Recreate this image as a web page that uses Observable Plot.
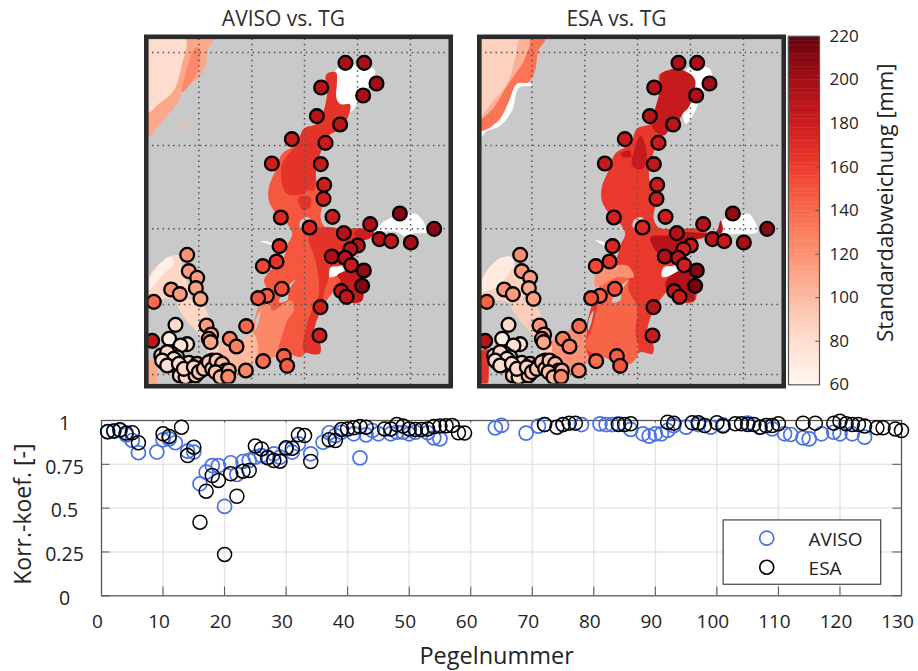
<!DOCTYPE html>
<html><head><meta charset="utf-8">
<script src="https://cdn.jsdelivr.net/npm/d3@7"></script>
<script src="https://cdn.jsdelivr.net/npm/@observablehq/plot@0.6"></script>
<style>
html,body{margin:0;padding:0;background:#fff}
#page{position:relative;width:918px;height:671px;overflow:hidden}
#page>div{position:absolute}
svg{display:block;overflow:visible}
</style></head><body><div id="page">
<div id="a" style="left:130px;top:0"></div>
<div id="b" style="left:463px;top:0"></div>
<div id="c" style="left:785px;top:0"></div>
<div id="d" style="left:0;top:400px"></div>
</div>
<script>
const FONT = "'Open Sans', sans-serif";
const INK = "#2e2e2e";

// ---------- map panels: positions in map-plane units ----------
const stationE = [615,671,708,668,542,529,599,454,555,394,541,551,549,421,576,507,689,778,881,717,752,811,610,652,630,574,614,632,670,665,602,618,417,408,367,424,379,353,540,537,317,268,288,430,440,368,316,140,145,170,166,180,92,118,40,105,198,212,205,210,86,140,120,35,75,95,110,70,85,100,90,105,125,150,145,170,180,195,215,235,225,250,235,245,62,80,100,65,80,115,118,135,165,130,160,175,190,205,215,228,245,255,225,240,265,263];
const stationN = [187,187,249,285,261,347,372,416,427,489,491,553,595,651,649,681,671,639,685,716,722,726,698,735,746,768,772,794,810,856,872,889,737,783,797,865,886,893,920,1005,977,1015,1038,1067,1096,1082,1110,763,812,832,863,895,867,881,904,973,975,1002,1015,1025,1015,1031,1035,1021,1065,1060,1070,1085,1090,1093,1075,1080,1125,1125,1087,1090,1110,1095,1080,1085,1095,1105,1115,1125,1065,1055,1075,1080,1095,1090,1125,1130,1125,1105,1100,1115,1105,1085,1105,1080,1090,1110,1115,1130,1110,1129];
const stdAviso = [195,195,200,195,190,190,188,182,182,178,182,178,178,172,180,175,195,210,208,190,185,198,192,190,190,195,190,182,205,212,185,185,170,165,155,152,145,150,180,178,140,130,130,145,145,138,125,120,115,115,112,110,120,115,140,80,115,110,110,110,68,75,75,185,85,85,85,80,80,80,85,85,85,85,85,100,100,95,95,100,100,100,100,105,85,85,80,80,80,80,85,85,95,85,85,95,95,95,95,95,100,100,95,100,105,125];
const stdEsa =   [195,195,200,195,192,190,188,182,182,182,185,180,180,176,180,172,190,205,208,190,182,198,192,180,178,195,188,178,212,215,185,182,172,165,155,152,145,150,190,182,140,130,128,145,150,138,125,122,118,115,110,112,118,115,142,82,118,112,112,110,70,78,78,190,85,85,85,80,80,80,85,85,85,85,85,100,100,95,95,100,100,100,100,105,85,85,80,80,80,80,85,85,95,85,85,95,95,95,95,95,100,100,95,100,105,125];

const gridE = [175,334,492,651,810];
const gridN = [156,435,685,912,1122];

const balticOuter = [[558,222],[586,216],[588,295],[600,312],[628,312],[622,350],[600,385],[565,405],[545,445],[527,500],[530,550],[548,600],[540,650],[555,680],[610,685],[680,685],[700,695],[690,712],[660,720],[630,735],[620,770],[600,795],[570,800],[565,830],[590,825],[620,810],[660,805],[668,850],[665,900],[640,908],[610,895],[590,865],[570,885],[545,920],[525,970],[520,1020],[538,1030],[537,1060],[500,1055],[480,1070],[440,1060],[390,1070],[320,1080],[300,1040],[335,1005],[340,970],[350,930],[365,890],[380,870],[370,840],[385,815],[430,770],[440,735],[455,700],[440,670],[400,630],[385,600],[385,560],[405,510],[425,460],[470,430],[490,385],[530,370],[550,330],[560,280]];

const avisoRegions = [
  {v:110, pts:[[24,115],[220,115],[205,140],[195,195],[170,235],[125,270],[120,290],[85,340],[50,380],[24,410]]},
  {v:80,  pts:[[24,115],[135,115],[125,190],[100,270],[55,310],[24,335]]},
  {v:125, pts:[[165,140],[178,145],[170,215],[145,255],[125,275],[135,220],[150,170]]},
  {v:100, pts:[[100,392],[130,375],[150,360],[135,378]]},
  {v:148, pts:balticOuter},
  {v:165, pts:[[558,222],[586,216],[588,295],[600,312],[628,312],[622,350],[600,385],[565,405],[545,445],[527,500],[520,570],[500,570],[490,580],[440,580],[425,550],[425,490],[470,430],[490,385],[530,370],[550,330],[560,280]]},
  {v:165, pts:[[475,590],[510,590],[508,620],[490,630],[477,615]]},
  {v:165, pts:[[505,720],[510,690],[555,680],[610,685],[680,685],[700,695],[690,712],[660,720],[630,735],[620,770],[600,795],[570,800],[565,830],[550,880],[545,920],[525,970],[520,1020],[538,1030],[537,1060],[490,1050],[495,990],[510,940],[535,880],[525,780]]},
  {v:178, pts:[[650,690],[680,685],[700,695],[690,712],[660,720],[640,700]]},
  {v:182, pts:[[590,825],[620,810],[660,805],[668,850],[665,900],[640,908],[610,895],[590,865],[600,840]]},
  {v:125, pts:[[395,930],[450,900],[460,930],[440,960],[420,1020],[400,1070],[320,1080],[300,1040],[335,1005],[340,970],[350,930],[365,890],[390,870]]},
  {v:100, pts:[[225,1040],[300,1020],[340,1000],[350,1075],[300,1120],[260,1150],[220,1100]]},
  {v:85,  pts:[[110,900],[180,905],[215,980],[235,1050],[225,1100],[175,1000],[130,950]]},
  {v:85,  pts:[[24,830],[85,770],[115,765],[125,810],[150,880],[130,900],[70,895],[24,925]]},
  {v:66,  pts:[[24,840],[80,770],[95,770],[100,790],[70,820],[24,870]]},
  {v:110, pts:[[24,1080],[40,1080],[48,1150],[24,1150]]}
];
const avisoGaps = [
  [[590,205],[700,205],[703,225],[690,250],[660,290],[650,310],[630,335],[625,312],[600,310],[588,295]],
  [[710,690],[735,660],[825,640],[855,675],[860,695],[815,700],[800,710],[770,695]],
  [[565,810],[585,795],[610,805],[590,830],[568,832]],
  [[360,722],[390,725],[420,750],[395,735]]
];
const avisoIslands = [
  [[465,838],[440,860],[415,905],[440,900],[445,870]],
  [[360,930],[345,960],[345,990],[355,960]],
  [[480,660],[505,650],[515,675],[490,690],[478,680]]
];

const esaRegions = [
  {v:88,  pts:[[33,117],[224,117],[204,150],[194,210],[174,245],[139,250],[114,305],[84,360],[33,390]]},
  {v:135, pts:[[178,117],[224,117],[204,150],[194,210],[174,245],[139,250],[114,305],[84,360],[33,390],[33,355],[70,320],[100,270],[130,225],[160,180]]},
  {v:105, pts:[[148,117],[178,117],[160,180],[130,225],[100,270],[70,320],[33,355],[33,350],[70,300],[110,250],[135,170]]},
  {v:162, pts:balticOuter.map(([x,y])=>[x+9,y])},
  {v:182, pts:[[572,220],[590,210],[620,205],[665,225],[675,245],[655,320],[640,335],[625,355],[605,372],[580,405],[545,380],[550,340],[565,285],[570,250]]},
  {v:182, pts:[[510,405],[525,435],[527,490],[510,507],[485,495],[490,455]]},
  {v:182, pts:[[450,460],[478,450],[482,468],[460,470]]},
  {v:142, pts:[[400,825],[470,800],[475,870],[500,920],[495,1000],[505,1050],[480,1090],[400,1070],[345,1040],[365,980],[385,900]]},
  {v:120, pts:[[380,815],[470,795],[490,830],[440,830],[375,860]]},
  {v:120, pts:[[225,1040],[345,975],[345,1040],[355,1080],[300,1125],[260,1150],[220,1100]]},
  {v:190, pts:[[540,710],[590,705],[640,695],[735,695],[750,660],[755,695],[680,715],[650,730],[610,770],[590,770],[555,750]]},
  {v:192, pts:[[595,830],[650,810],[670,860],[670,900],[640,900],[585,860]]},
  {v:70,  pts:[[33,840],[85,775],[125,770],[130,800],[80,860],[33,880]]},
  {v:88,  pts:[[33,880],[85,860],[135,800],[165,880],[140,910],[80,900],[33,930]]},
  {v:90,  pts:[[120,905],[190,910],[225,980],[245,1050],[235,1100],[185,1000],[140,950]]},
  {v:165, pts:[[33,1050],[50,1045],[55,1110],[50,1150],[33,1150]]}
];
const esaGaps = [
  [[650,205],[718,205],[722,240],[695,280],[670,340],[645,370]],
  [[755,660],[800,650],[835,640],[860,680],[860,695],[800,700],[755,700]],
  [[575,820],[590,795],[620,805],[595,840]],
  [[33,390],[84,360],[114,305],[139,250],[174,245],[184,255],[145,262],[125,330],[90,375],[45,395],[33,410]],
  [[375,720],[400,725],[430,755],[400,735]]
];
const esaIslands = [
  [[474,838],[449,860],[424,905],[449,900],[454,870]],
  [[369,930],[354,960],[354,990],[364,960]],
  [[489,660],[514,650],[524,675],[499,690],[487,680]]
];

// ---------- correlation panel ----------
const avisoX = [1,2,3,4,5,6,9,10,11,12,14,15,16,17,18,19,20,21,22,23,24,25,26,27,28,29,30,31,32,34,36,37,38,39,41,42,43,44,45,47,48,49,50,51,53,54,55,64,65,69,71,72,75,78,81,82,83,84,86,88,89,90,91,92,93,95,97,99,101,105,107,109,111,112,114,115,117,119,120,122,124];
const avisoR = [.934,.939,.943,.918,.886,.816,.82,.89,.895,.873,.825,.82,.639,.705,.743,.743,.51,.759,.692,.766,.772,.791,.8,.791,.81,.791,.838,.82,.867,.81,.876,.93,.914,.933,.924,.787,.918,.943,.924,.924,.933,.933,.924,.933,.93,.901,.895,.958,.972,.928,.968,.977,.977,.977,.981,.977,.977,.981,.949,.924,.911,.924,.924,.943,.971,.962,.977,.962,.975,.985,.962,.952,.924,.92,.901,.895,.924,.933,.924,.924,.905];
const esaX = [1,2,3,4,5,6,10,11,13,14,15,16,17,18,19,20,21,22,23,24,25,26,27,28,29,30,31,32,33,34,37,38,39,40,41,42,43,46,47,48,49,50,51,52,53,54,55,56,57,58,59,72,74,75,76,77,84,85,86,92,93,96,97,98,100,101,103,104,105,106,107,108,109,110,114,116,119,120,121,122,123,124,126,127,129,130];
const esaR = [.937,.94,.947,.928,.93,.873,.924,.909,.962,.80,.848,.42,.597,.686,.658,.236,.696,.568,.711,.715,.854,.838,.787,.772,.768,.844,.842,.918,.914,.766,.89,.886,.949,.952,.958,.966,.962,.952,.952,.977,.968,.952,.949,.949,.952,.966,.968,.97,.972,.93,.928,.977,.962,.977,.985,.985,.977,.977,.981,.99,.985,.987,.987,.971,.987,.968,.981,.981,.977,.977,.962,.971,.971,.981,.985,.985,.985,.996,.981,.977,.977,.968,.958,.958,.952,.943];
const xTicks = d3.range(0,131,10);
const yTicks = [0,.25,.5,.75,1];
const yTickLabels = ["0","0.25","0.5","0.75","1"];
const legendNames = ["AVISO","ESA"];
const legendColors = ["#4a72e2","#000000"];
const colorTicks = [60,80,100,120,140,160,180,200,220];

const COLOR = {type:"linear", scheme:"Reds", domain:[60,220]};
const stations = values => stationE.map((e,i)=>({e, n:stationN[i], v:values[i]}));
const polyMark = (pts, fill) => Plot.line(pts,{x:d=>d[0],y:d=>d[1],fill,stroke:"none",curve:"catmull-rom-closed",clip:"frame"});

function mapPanel(title, regions, gaps, islands, values, shift){
  const sh = pts => pts.map(([x,y])=>[x-shift,y]);
  return Plot.plot({
    width:330,height:395,marginLeft:18,marginRight:12,marginTop:38.5,marginBottom:11.5,
    style:{background:"transparent",fontFamily:FONT},
    x:{domain:[24,924],axis:null},
    y:{domain:[1150.5,115.5],axis:null},
    color:COLOR,
    marks:[
      Plot.frame({fill:"#c9c9c9",stroke:"none"}),
      ...gaps.map(g=>polyMark(sh(g),"#ffffff")),
      ...regions.map(r=>polyMark(sh(r.pts),()=>r.v)),
      ...islands.map(g=>polyMark(sh(g),"#c9c9c9")),
      Plot.ruleX(gridE,{x:d=>d,stroke:"#555",strokeWidth:1.5,strokeDasharray:"1.5,3.8"}),
      Plot.ruleY(gridN,{y:d=>d,x1:36,x2:924,stroke:"#555",strokeWidth:1.5,strokeDasharray:"1.5,3.8"}),
      Plot.dot(stations(values),{x:"e",y:"n",r:6.9,fill:"v",stroke:"#000",strokeWidth:2.3,clip:"frame"}),
      Plot.frame({inset:-2.2,stroke:"#2b2b2b",strokeWidth:4.6}),
      Plot.text([title],{frameAnchor:"top",dy:-27.5,dx:-15,fontSize:21,fill:INK,textAnchor:"middle"})
    ]
  });
}
document.getElementById("a").append(mapPanel("AVISO vs. TG",avisoRegions,avisoGaps,avisoIslands,stdAviso,0));
document.getElementById("b").append(mapPanel("ESA vs. TG",esaRegions,esaGaps,esaIslands,stdEsa,9));

// ---------- colour bar ----------
const barSteps = d3.range(60,220,2);
document.getElementById("c").append(Plot.plot({
  width:133,height:395,marginLeft:3,marginRight:99,marginTop:36,marginBottom:10.7,
  style:{background:"transparent",fontFamily:FONT},
  x:{domain:[0,1],axis:null},
  y:{domain:[60,220],axis:null},
  color:COLOR,
  marks:[
    Plot.rect(barSteps,{x1:0,x2:1,y1:d=>d,y2:d=>d+2,fill:d=>d+1,stroke:d=>d+1,strokeWidth:.4}),
    Plot.ruleY(colorTicks.slice(1,-1),{y:d=>d,x1:.88,x2:1,stroke:"#555",strokeWidth:1}),
    Plot.frame({stroke:"#555",strokeWidth:1.2}),
    Plot.text(colorTicks,{x:1,y:d=>d,text:d=>String(d),dx:10,textAnchor:"start",fontSize:17,fill:"#222"}),
    Plot.text(["Standardabweichung [mm]"],{x:1,y:143.7,dx:66,rotate:-90,textAnchor:"middle",fontSize:22,fill:"#222"})
  ]
}));

// ---------- correlation scatter ----------
const avisoRows = avisoX.map((x,i)=>({x,r:avisoR[i]}));
const esaRows = esaX.map((x,i)=>({x,r:esaR[i]}));
document.getElementById("d").append(Plot.plot({
  width:918,height:271,marginLeft:101,marginRight:17,marginTop:20,marginBottom:75.7,
  style:{background:"transparent",fontFamily:FONT},
  x:{domain:[0,130],axis:null},
  y:{domain:[0,1],axis:null},
  marks:[
    Plot.ruleX(xTicks,{x:d=>d,stroke:"#e4e4e4",strokeWidth:1.4}),
    Plot.ruleY(yTicks,{y:d=>d,stroke:"#e4e4e4",strokeWidth:1.4}),
    Plot.ruleX(xTicks,{x:d=>d,y1:0,y2:.05,stroke:"#555"}),
    Plot.ruleX(xTicks,{x:d=>d,y1:.985,y2:1,stroke:"#555"}),
    Plot.ruleY(yTicks,{y:d=>d,x1:0,x2:1.4,stroke:"#555"}),
    Plot.ruleY(yTicks,{y:d=>d,x1:128.6,x2:130,stroke:"#555"}),
    Plot.frame({stroke:"#555",strokeWidth:1.2}),
    Plot.dot(avisoRows,{x:"x",y:"r",r:7,stroke:legendColors[0],strokeWidth:1.7,fill:"none"}),
    Plot.dot(esaRows,{x:"x",y:"r",r:7,stroke:legendColors[1],strokeWidth:1.5,fill:"none"}),
    Plot.text(xTicks,{x:d=>d,y:0,text:d=>String(d),dy:26,dx:-4,fontSize:19,fill:"#222"}),
    Plot.text(yTicks,{x:0,y:d=>d,text:(d,i)=>yTickLabels[i],dx:-37,dy:3,textAnchor:"middle",fontSize:19.5,fill:"#222"}),
    Plot.text(["Pegelnummer"],{x:64.2,y:0,dy:61,fontSize:23.5,fill:"#222"}),
    Plot.text(["Korr.-koef. [-]"],{x:0,y:.5,dx:-78,dy:6,rotate:-90,fontSize:23,fill:"#222"}),
    Plot.rect([0],{x1:101.1,x2:126.7,y1:.063,y2:.43,fill:"#fff",stroke:"#444",strokeWidth:1.2}),
    Plot.dot(legendNames,{x:108.1,y:(d,i)=>[.3286,.163][i],r:7,stroke:(d,i)=>legendColors[i],strokeWidth:1.7,fill:"none"}),
    Plot.text(legendNames,{x:114.9,y:(d,i)=>[.3286,.163][i],text:d=>d,dy:2,textAnchor:"start",fontSize:19,fill:"#222"})
  ]
}));
</script></body></html>
